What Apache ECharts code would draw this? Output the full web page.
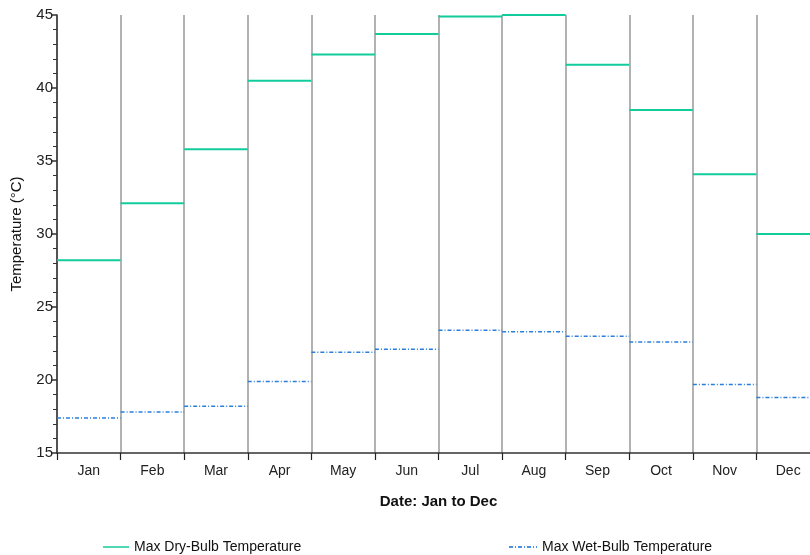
<!DOCTYPE html>
<html>
<head>
<meta charset="utf-8">
<script src="https://cdn.jsdelivr.net/npm/echarts@6/dist/echarts.min.js"></script>
<style>html,body{margin:0;padding:0;background:#fff}#c{width:810px;height:555px}</style>
</head>
<body>
<div id="c"></div>
<script>
var months = ['Jan','Feb','Mar','Apr','May','Jun','Jul','Aug','Sep','Oct','Nov','Dec'];
var dryBulb = [28.2, 32.1, 35.8, 40.5, 42.3, 43.7, 44.9, 45.0, 41.6, 38.5, 34.1, 30.0];
var wetBulb = [17.4, 17.8, 18.2, 19.9, 21.9, 22.1, 23.4, 23.3, 23.0, 22.6, 19.7, 18.8];
var yTicks = [15, 20, 25, 30, 35, 40, 45];

var DRY = '#12cc9c', WET = '#2a7fdc';

function stepRender(color, width, dash) {
  return function (params, api) {
    var pt = api.coord([api.value(0), api.value(1)]);
    var w = api.size([1, 0])[0];
    return {
      type: 'line',
      shape: { x1: pt[0] - w / 2, y1: pt[1], x2: pt[0] + w / 2, y2: pt[1] },
      style: { stroke: color, lineWidth: width, lineDash: dash || null, fill: null }
    };
  };
}

var chart = echarts.init(document.getElementById('c'));
var fontFam = 'Liberation Sans, Arial, sans-serif';
chart.setOption({
  animation: false,
  textStyle: { fontFamily: fontFam },
  grid: { left: 57, width: 763, top: 15, height: 438, containLabel: false, outerBoundsMode: 'none' },
  xAxis: {
    type: 'category',
    data: months,
    boundaryGap: true,
    name: 'Date: Jan to Dec',
    nameLocation: 'middle',
    nameGap: 41,
    nameTextStyle: { fontWeight: 'bold', fontSize: 15, color: '#111', fontFamily: fontFam },
    axisLine: { lineStyle: { color: '#333', width: 1.5 } },
    axisTick: { show: true, length: 7, lineStyle: { color: '#222', width: 1.2 }, alignWithLabel: false },
    axisLabel: { fontSize: 14, color: '#222', margin: 11, fontFamily: fontFam },
    splitLine: { show: true, lineStyle: { color: '#999', width: 1.5 } }
  },
  yAxis: {
    type: 'value',
    min: yTicks[0],
    max: yTicks[yTicks.length - 1],
    interval: 5,
    name: 'Temperature (°C)',
    nameLocation: 'middle',
    nameGap: 33,
    nameTextStyle: { fontSize: 15, color: '#111', fontFamily: fontFam },
    axisLine: { show: true, lineStyle: { color: '#333', width: 1.5 } },
    axisTick: { show: true, length: 6, lineStyle: { color: '#333', width: 1.5 } },
    minorTick: { show: true, splitNumber: 5, length: 4, lineStyle: { color: '#333', width: 1 } },
    axisLabel: { fontSize: 15, color: '#222', margin: 4, fontFamily: fontFam },
    splitLine: { show: false }
  },
  legend: [{
    left: 98, top: 535,
    itemWidth: 26, itemHeight: 2, itemGap: 10,
    textStyle: { fontSize: 14, color: '#111', fontFamily: fontFam },
    data: [{ name: 'Max Dry-Bulb Temperature', icon: 'path://M0,0H26V2H0Z', itemStyle: { color: '#4fd8b2' } }]
  }, {
    left: 504, top: 535,
    itemWidth: 28, itemHeight: 2, itemGap: 6,
    textStyle: { fontSize: 14, color: '#111', fontFamily: fontFam },
    data: [{ name: 'Max Wet-Bulb Temperature', icon: 'path://M0,0H4V2H0Z M6,0H7V2H6Z M9,0H13V2H9Z M15,0H16V2H15Z M18,0H22V2H18Z M24,0H25V2H24Z M27,0H28V2H27Z', itemStyle: { color: '#4a90e2' } }]
  }],
  series: [{
    name: 'Max Dry-Bulb Temperature',
    type: 'custom',
    renderItem: stepRender(DRY, 2),
    encode: { x: 0, y: 1 },
    data: dryBulb.map(function (v, i) { return [i, v]; }),
    z: 5
  }, {
    name: 'Max Wet-Bulb Temperature',
    type: 'custom',
    renderItem: stepRender(WET, 1.5, [4, 2, 1, 2]),
    encode: { x: 0, y: 1 },
    data: wetBulb.map(function (v, i) { return [i, v]; }),
    z: 5
  }]
});
</script>
</body>
</html>
